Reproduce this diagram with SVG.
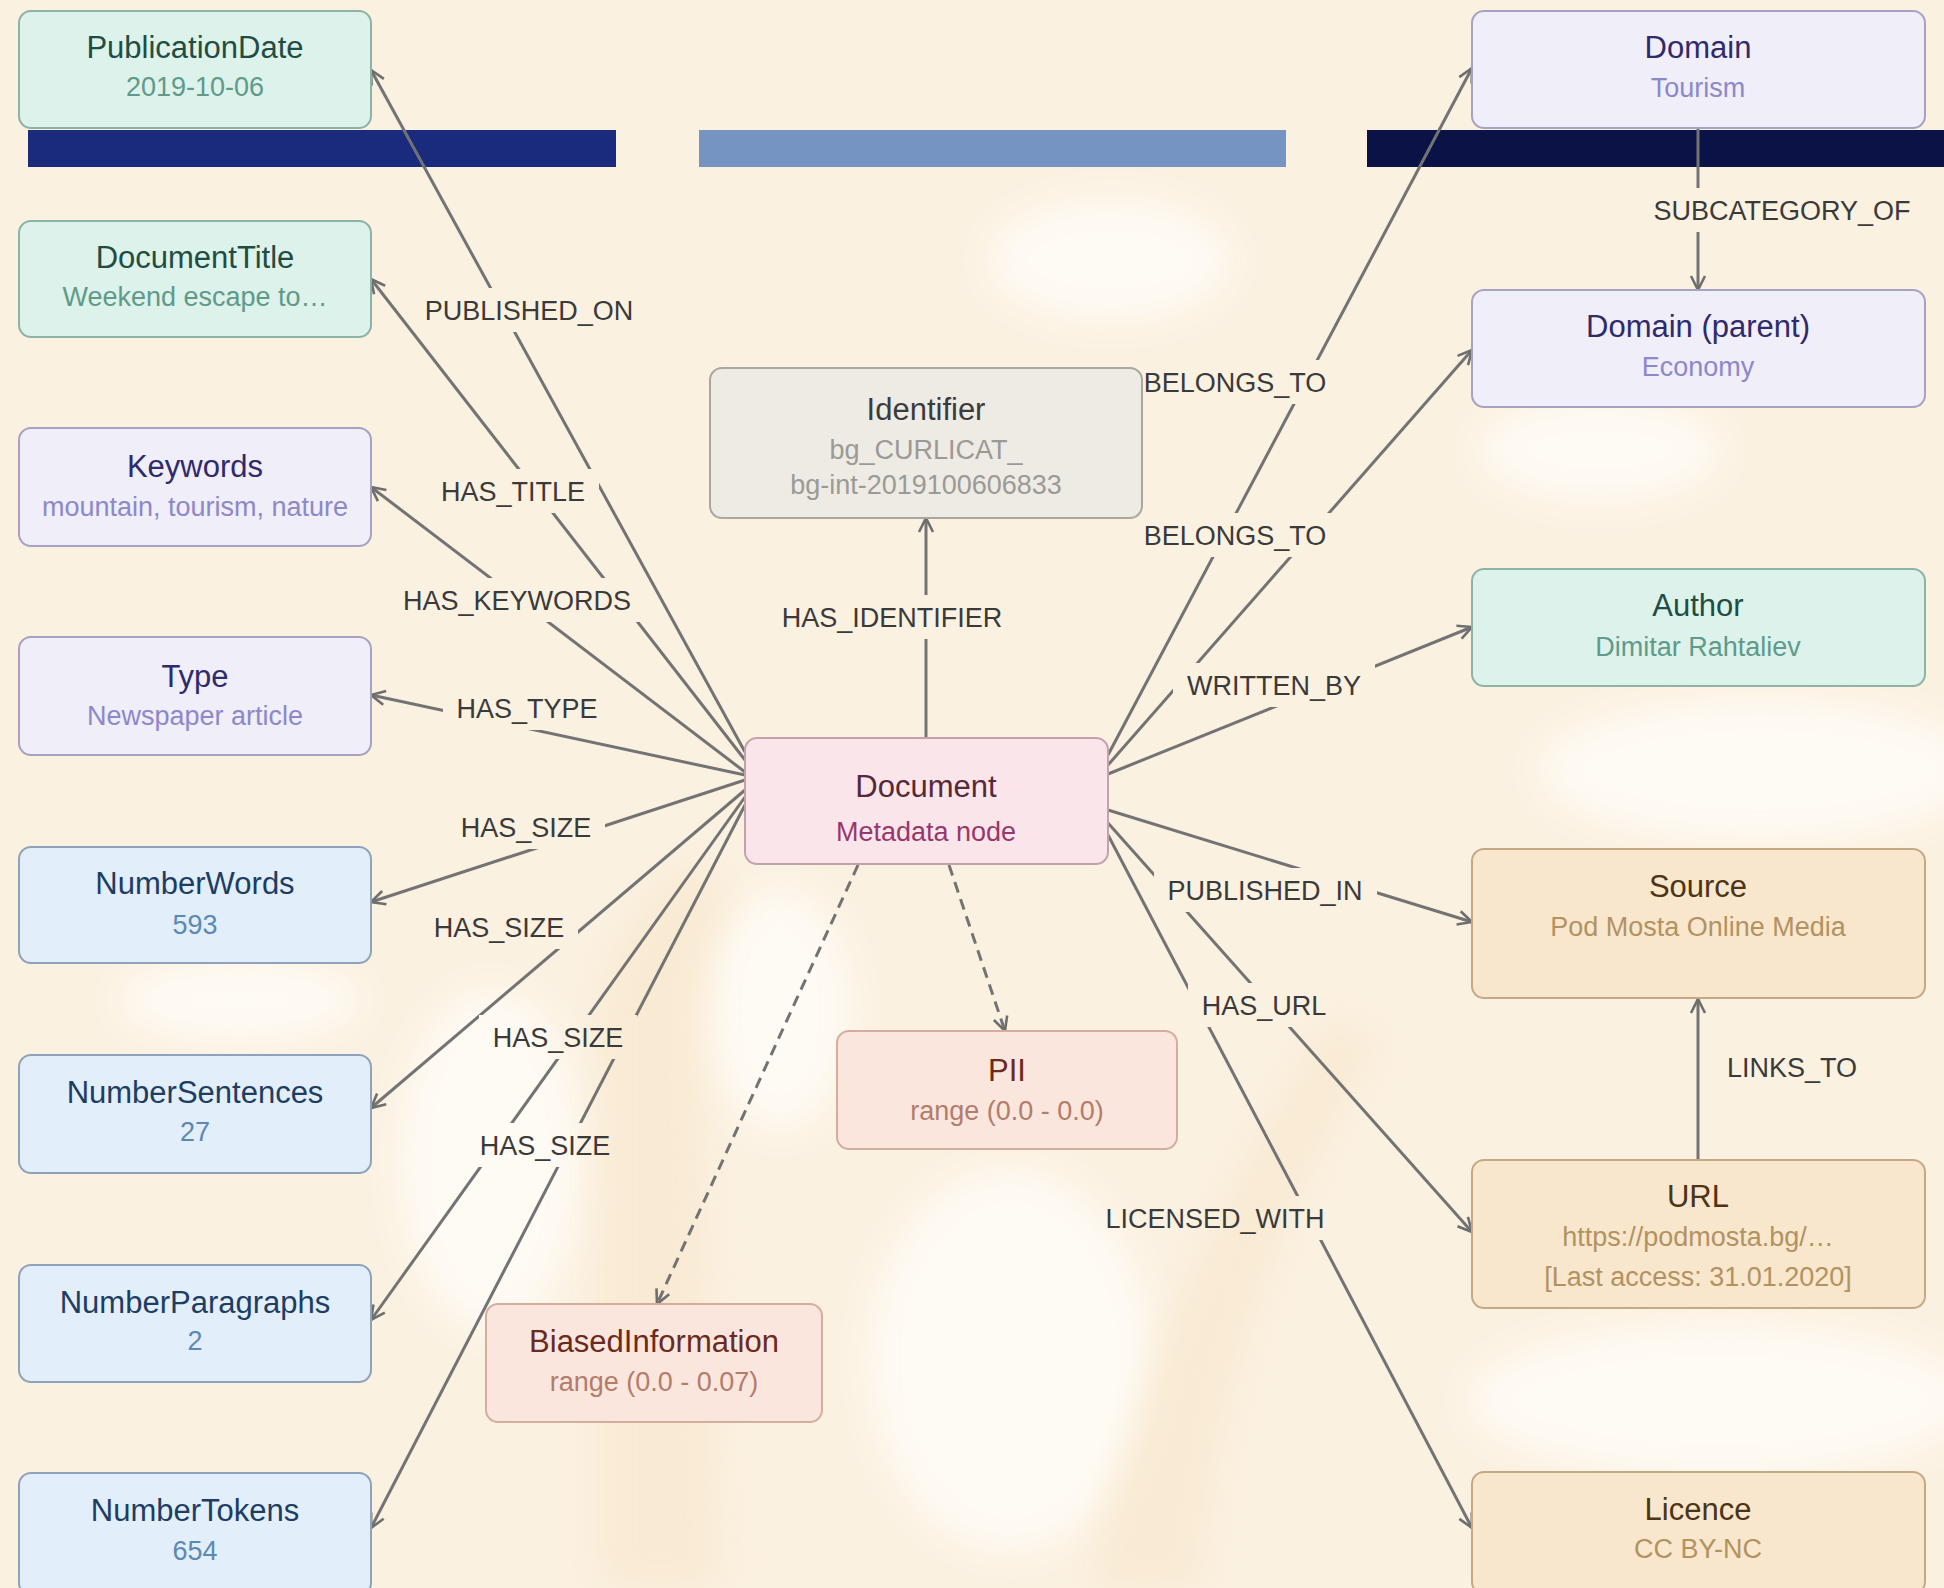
<svg xmlns="http://www.w3.org/2000/svg" width="1944" height="1588" viewBox="0 0 1944 1588">
<style>
.nb{stroke-width:2}
.t{font-family:"Liberation Sans",Arial,sans-serif;font-size:31px;text-anchor:middle}
.s{font-family:"Liberation Sans",Arial,sans-serif;font-size:27px;text-anchor:middle}
.lbl{font-family:"Liberation Sans",Arial,sans-serif;font-size:27px;fill:#3a3a3a;text-anchor:middle}
.e{stroke:#737373;stroke-width:3;fill:none;marker-end:url(#arr)}
.d{stroke-dasharray:11 7}
.green rect{fill:#dcf2ea;stroke:#8db3a6}.green .t{fill:#1f4d43}.green .s{fill:#5f9a8a}
.lav rect{fill:#efeef9;stroke:#a6a2c4}.lav .t{fill:#2f2a6b}.lav .s{fill:#8d88c9}
.blue rect{fill:#e2eef9;stroke:#8ea3bb}.blue .t{fill:#1d3d63}.blue .s{fill:#5b89b3}
.grey rect{fill:#eeebe4;stroke:#aaa79e}.grey .t{fill:#3b3b3b}.grey .s{fill:#9b9a96}
.pink rect{fill:#fae5ea;stroke:#c3a2ab}.pink .t{fill:#56283a}.pink .s{fill:#97386b}
.salmon rect{fill:#fae6dd;stroke:#d5ad9f}.salmon .t{fill:#6b2a20}.salmon .s{fill:#b37c6c}
.orange rect{fill:#f8e7cd;stroke:#c5a986}.orange .t{fill:#4c3416}.orange .s{fill:#b39262}
</style>
<defs>
<marker id="arr" markerUnits="userSpaceOnUse" viewBox="-16 -9 18 18" markerWidth="18" markerHeight="18" refX="0" refY="0" orient="auto">
<path d="M-14,-7 L0,0 L-14,7" fill="none" stroke="#6e6e6e" stroke-width="2.6"/>
</marker>
<filter id="blur" x="-50%" y="-50%" width="200%" height="200%"><feGaussianBlur stdDeviation="18"/></filter>
<mask id="lm" maskUnits="userSpaceOnUse" x="0" y="0" width="1944" height="1588">
<rect width="1944" height="1588" fill="#fff"/>
<g fill="#000">
<rect x="416" y="288" width="230" height="44"/>
<rect x="427" y="469" width="172" height="44"/>
<rect x="389" y="578" width="256" height="44"/>
<rect x="443" y="686" width="168" height="44"/>
<rect x="447" y="805" width="158" height="44"/>
<rect x="420" y="905" width="158" height="44"/>
<rect x="479" y="1015" width="158" height="44"/>
<rect x="466" y="1123" width="158" height="44"/>
<rect x="768" y="595" width="248" height="44"/>
<rect x="1129" y="360" width="212" height="44"/>
<rect x="1129" y="513" width="212" height="44"/>
<rect x="1173" y="663" width="202" height="44"/>
<rect x="1154" y="868" width="223" height="44"/>
<rect x="1188" y="983" width="153" height="44"/>
<rect x="1092" y="1196" width="247" height="44"/>
<rect x="1638" y="188" width="288" height="44"/>
</g>
</mask>
</defs>

<g id="background">
<rect width="1944" height="1588" fill="#fbf1e1"/>
<g fill="#fffcf7" filter="url(#blur)" opacity="0.9">
<ellipse cx="1760" cy="770" rx="220" ry="70"/>
<ellipse cx="1720" cy="1400" rx="250" ry="75"/>
<ellipse cx="490" cy="1160" rx="90" ry="170"/>
<ellipse cx="780" cy="1010" rx="70" ry="120"/>
<ellipse cx="1010" cy="1360" rx="140" ry="190"/>
<ellipse cx="1110" cy="260" rx="120" ry="60"/>
<ellipse cx="1600" cy="450" rx="120" ry="50"/>
<ellipse cx="240" cy="1000" rx="120" ry="40"/>
</g>
<g fill="#f7e5c8" opacity="0.55" filter="url(#blur)">
<path d="M600,1588 L600,1000 Q620,900 700,860 L730,900 Q690,960 700,1100 L720,1588 Z"/>
<path d="M1090,1588 Q1150,1300 1330,1020 L1380,1040 Q1220,1300 1200,1588 Z"/>
</g>
</g>

<g id="bars">
<rect x="28" y="130" width="588" height="37" fill="#1a2a7c"/>
<rect x="699" y="130" width="587" height="37" fill="#7594c1"/>
<rect x="1367" y="130" width="577" height="37" fill="#0b1346"/>
</g>

<g id="connectors" mask="url(#lm)">
<line class="e" x1="745" y1="752" x2="371" y2="70"/>
<line class="e" x1="745" y1="760" x2="371" y2="279"/>
<line class="e" x1="745" y1="772" x2="371" y2="487"/>
<line class="e" x1="745" y1="775" x2="371" y2="695"/>
<line class="e" x1="745" y1="780" x2="371" y2="902"/>
<line class="e" x1="745" y1="790" x2="371" y2="1108"/>
<line class="e" x1="745" y1="797" x2="371" y2="1320"/>
<line class="e" x1="745" y1="805" x2="371" y2="1528"/>
<line class="e" x1="926" y1="738" x2="926" y2="518"/>
<line class="e" x1="1108" y1="755" x2="1472" y2="68"/>
<line class="e" x1="1108" y1="765" x2="1472" y2="350"/>
<line class="e" x1="1108" y1="774" x2="1472" y2="627"/>
<line class="e" x1="1108" y1="810" x2="1472" y2="922"/>
<line class="e" x1="1108" y1="823" x2="1472" y2="1232"/>
<line class="e" x1="1108" y1="835" x2="1472" y2="1528"/>
<line class="e" x1="1698" y1="128" x2="1698" y2="290"/>
<line class="e" x1="1698" y1="1160" x2="1698" y2="999"/>
<line class="e d" x1="858" y1="865" x2="657" y2="1304"/>
<line class="e d" x1="949" y1="865" x2="1005" y2="1031"/>
</g>

<g id="edge-labels">
<text class="lbl" x="529" y="320">PUBLISHED_ON</text>
<text class="lbl" x="513" y="501">HAS_TITLE</text>
<text class="lbl" x="517" y="610">HAS_KEYWORDS</text>
<text class="lbl" x="527" y="718">HAS_TYPE</text>
<text class="lbl" x="526" y="837">HAS_SIZE</text>
<text class="lbl" x="499" y="937">HAS_SIZE</text>
<text class="lbl" x="558" y="1047">HAS_SIZE</text>
<text class="lbl" x="545" y="1155">HAS_SIZE</text>
<text class="lbl" x="892" y="627">HAS_IDENTIFIER</text>
<text class="lbl" x="1235" y="392">BELONGS_TO</text>
<text class="lbl" x="1235" y="545">BELONGS_TO</text>
<text class="lbl" x="1274" y="695">WRITTEN_BY</text>
<text class="lbl" x="1265" y="900">PUBLISHED_IN</text>
<text class="lbl" x="1264" y="1015">HAS_URL</text>
<text class="lbl" x="1215" y="1228">LICENSED_WITH</text>
<text class="lbl" x="1782" y="220">SUBCATEGORY_OF</text>
<text class="lbl" x="1792" y="1077">LINKS_TO</text>
</g>

<g id="n-publicationdate" class="green"><rect class="nb" x="19" y="11" width="352" height="117" rx="12"/><text class="t" x="195" y="58">PublicationDate</text><text class="s" x="195" y="96">2019-10-06</text></g>
<g id="n-documenttitle" class="green"><rect class="nb" x="19" y="221" width="352" height="116" rx="12"/><text class="t" x="195" y="268">DocumentTitle</text><text class="s" x="195" y="306">Weekend escape to…</text></g>
<g id="n-keywords" class="lav"><rect class="nb" x="19" y="428" width="352" height="118" rx="12"/><text class="t" x="195" y="477">Keywords</text><text class="s" x="195" y="516">mountain, tourism, nature</text></g>
<g id="n-type" class="lav"><rect class="nb" x="19" y="637" width="352" height="118" rx="12"/><text class="t" x="195" y="687">Type</text><text class="s" x="195" y="725">Newspaper article</text></g>
<g id="n-numberwords" class="blue"><rect class="nb" x="19" y="847" width="352" height="116" rx="12"/><text class="t" x="195" y="894">NumberWords</text><text class="s" x="195" y="934">593</text></g>
<g id="n-numbersentences" class="blue"><rect class="nb" x="19" y="1055" width="352" height="118" rx="12"/><text class="t" x="195" y="1103">NumberSentences</text><text class="s" x="195" y="1141">27</text></g>
<g id="n-numberparagraphs" class="blue"><rect class="nb" x="19" y="1265" width="352" height="117" rx="12"/><text class="t" x="195" y="1313">NumberParagraphs</text><text class="s" x="195" y="1350">2</text></g>
<g id="n-numbertokens" class="blue"><rect class="nb" x="19" y="1473" width="352" height="122" rx="12"/><text class="t" x="195" y="1521">NumberTokens</text><text class="s" x="195" y="1560">654</text></g>

<g id="n-identifier" class="grey"><rect class="nb" x="710" y="368" width="432" height="150" rx="12"/><text class="t" x="926" y="420">Identifier</text><text class="s" x="926" y="459">bg_CURLICAT_</text><text class="s" x="926" y="494">bg-int-2019100606833</text></g>
<g id="n-document" class="pink"><rect class="nb" x="745" y="738" width="363" height="126" rx="12"/><text class="t" x="926" y="797">Document</text><text class="s" x="926" y="841">Metadata node</text></g>
<g id="n-pii" class="salmon"><rect class="nb" x="837" y="1031" width="340" height="118" rx="12"/><text class="t" x="1007" y="1081">PII</text><text class="s" x="1007" y="1120">range (0.0 - 0.0)</text></g>
<g id="n-biased" class="salmon"><rect class="nb" x="486" y="1304" width="336" height="118" rx="12"/><text class="t" x="654" y="1352">BiasedInformation</text><text class="s" x="654" y="1391">range (0.0 - 0.07)</text></g>

<g id="n-domain" class="lav"><rect class="nb" x="1472" y="11" width="453" height="117" rx="12"/><text class="t" x="1698" y="58">Domain</text><text class="s" x="1698" y="97">Tourism</text></g>
<g id="n-domainparent" class="lav"><rect class="nb" x="1472" y="290" width="453" height="117" rx="12"/><text class="t" x="1698" y="337">Domain (parent)</text><text class="s" x="1698" y="376">Economy</text></g>
<g id="n-author" class="green"><rect class="nb" x="1472" y="569" width="453" height="117" rx="12"/><text class="t" x="1698" y="616">Author</text><text class="s" x="1698" y="656">Dimitar Rahtaliev</text></g>
<g id="n-source" class="orange"><rect class="nb" x="1472" y="849" width="453" height="149" rx="12"/><text class="t" x="1698" y="897">Source</text><text class="s" x="1698" y="936">Pod Mosta Online Media</text></g>
<g id="n-url" class="orange"><rect class="nb" x="1472" y="1160" width="453" height="148" rx="12"/><text class="t" x="1698" y="1207">URL</text><text class="s" x="1698" y="1246">https://podmosta.bg/…</text><text class="s" x="1698" y="1286">[Last access: 31.01.2020]</text></g>
<g id="n-licence" class="orange"><rect class="nb" x="1472" y="1472" width="453" height="122" rx="12"/><text class="t" x="1698" y="1520">Licence</text><text class="s" x="1698" y="1558">CC BY-NC</text></g>
</svg>
